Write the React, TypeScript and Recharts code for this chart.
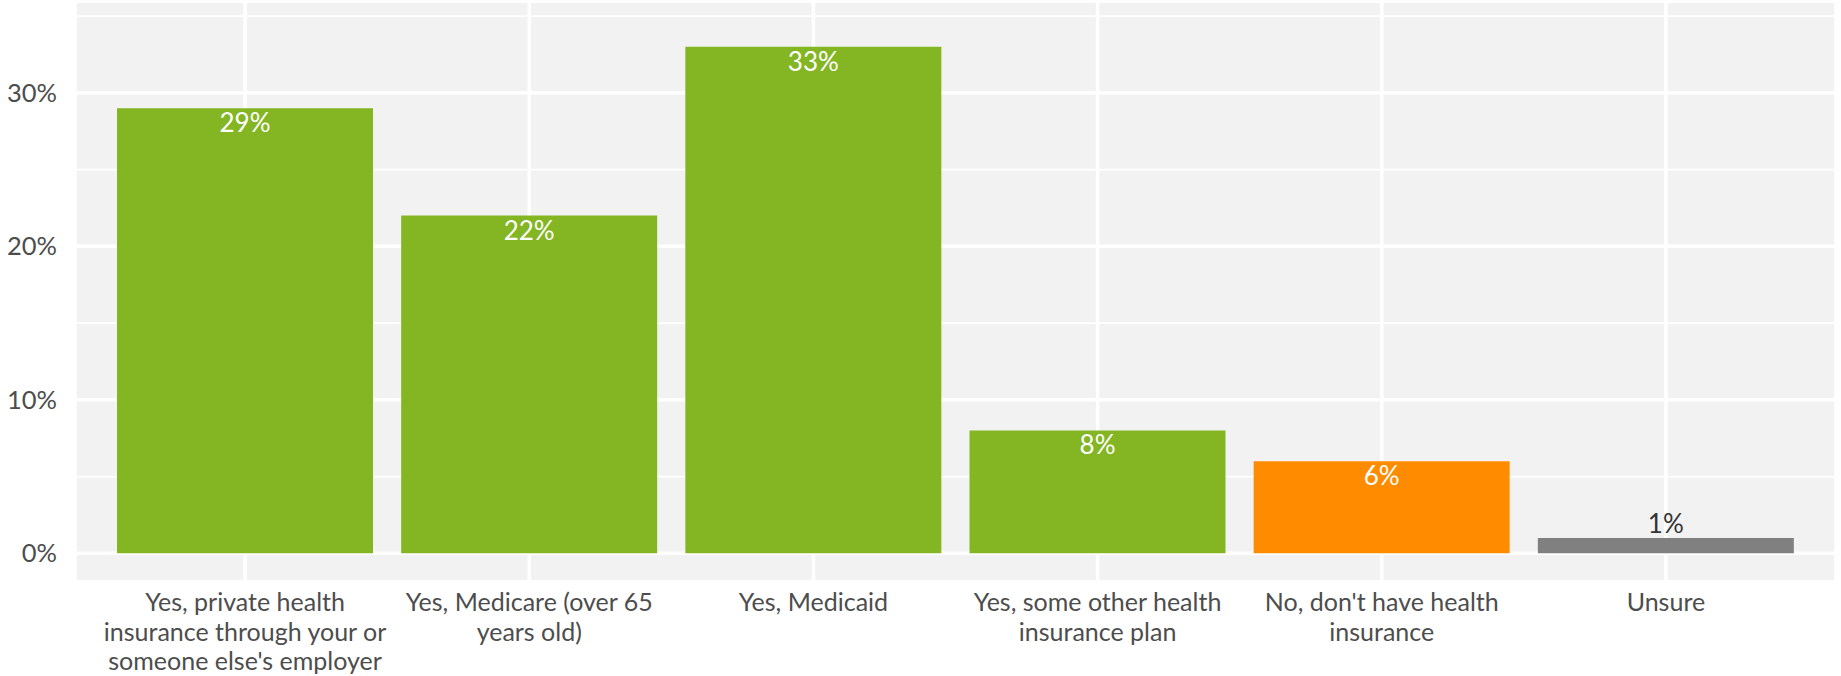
import { BarChart, Bar, XAxis, YAxis, CartesianGrid, LabelList, Cell } from 'recharts';

const categories = [
  "Yes, private health\ninsurance through your or\nsomeone else's employer",
  'Yes, Medicare (over 65\nyears old)',
  'Yes, Medicaid',
  'Yes, some other health\ninsurance plan',
  "No, don't have health\ninsurance",
  'Unsure',
];
const shares = [29, 22, 33, 8, 6, 1];
const barColors = ['#83b622', '#83b622', '#83b622', '#83b622', '#ff8c00', '#808080'];
const yTicks = [0, 10, 20, 30];
const minorTicks = [5, 15, 25, 35];

const data = categories.map((name, i) => ({ name, value: shares[i] }));

const FONT = 'Lato, "Open Sans", sans-serif';

const XTick = (props: any) => {
  const { x, y, payload } = props;
  const lines = String(payload.value).split('\n');
  return (
    <text x={x} y={y} textAnchor="middle" fill="#4d4d4d" fontSize={25} fontFamily={FONT}>
      {lines.map((l: string, i: number) => (
        <tspan key={i} x={x} dy={i === 0 ? 23 : 29.5}>
          {l}
        </tspan>
      ))}
    </text>
  );
};

const ValueLabel = (props: any) => {
  const { x, y, width, value } = props;
  const inside = value >= 3;
  return (
    <text
      x={x + width / 2}
      y={inside ? y + 14 : y - 15}
      textAnchor="middle"
      dominantBaseline="central"
      fill={inside ? '#ffffff' : '#333333'}
      fontSize={26}
      fontFamily={FONT}
    >
      {value}%
    </text>
  );
};

export default function App() {
  return (
    <div style={{ position: 'absolute', left: 0, top: 0, background: '#fff' }}>
      <BarChart
        width={1841}
        height={676}
        data={data}
        margin={{ top: 3, right: 5, left: 0, bottom: 0 }}
      >
        <CartesianGrid
          fill="#f2f2f2"
          stroke="#ffffff"
          strokeWidth={1.8}
          horizontal
          vertical={false}
          horizontalValues={minorTicks}
        />
        <CartesianGrid
          stroke="#ffffff"
          strokeWidth={3.5}
          horizontal
          vertical
          horizontalValues={yTicks}
        />
        <XAxis
          dataKey="name"
          height={96}
          padding={{ left: 28, right: 28 }}
          axisLine={false}
          tickLine={false}
          interval={0}
          tick={<XTick />}
        />
        <YAxis
          width={75}
          domain={[-1.74, 35.85]}
          ticks={yTicks}
          allowDataOverflow
          axisLine={false}
          tickLine={false}
          tickMargin={12}
          tickFormatter={(v) => `${v}%`}
          tick={{ fill: '#4d4d4d', fontSize: 25.5, fontFamily: FONT }}
        />
        <Bar dataKey="value" barSize={256} isAnimationActive={false}>
          {data.map((d, i) => (
            <Cell key={d.name} fill={barColors[i]} />
          ))}
          <LabelList dataKey="value" content={<ValueLabel />} />
        </Bar>
      </BarChart>
    </div>
  );
}
